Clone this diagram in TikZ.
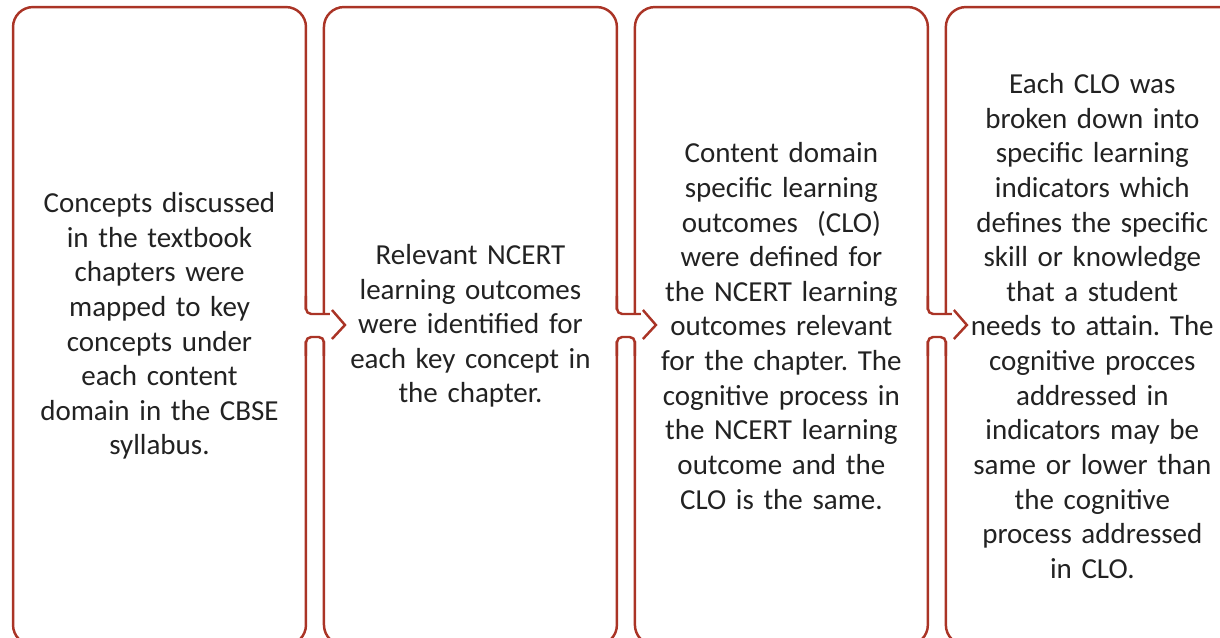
\documentclass[tikz,border=0pt]{standalone}
\usepackage{fontspec}
\setmainfont{Carlito}
\usepackage{xcolor}
\usetikzlibrary{positioning}
\definecolor{boxred}{RGB}{170,52,38}
\definecolor{ink}{RGB}{34,34,34}
\frenchspacing

\begin{document}
\begin{tikzpicture}[
x=0.02cm, y=-0.02cm,
box/.style={rectangle, draw=boxred, line width=1.4pt, rounded corners=0.4cm, outer sep=0pt, inner sep=0.1cm,
  minimum width=5.86cm, minimum height=12.76cm, text width=5.5cm, align=center,
  text=ink, font=\fontsize{16.5}{19.7}\selectfont},
link/.style={draw=boxred, line width=1.4pt}
]
\useasboundingbox (0,0) rectangle (1220,638);

\node[box](concepts) at (159.5,326){Concepts discussed\\in the textbook\\chapters were\\mapped to key\\concepts under\\each content\\domain in the CBSE\\syllabus.};
\node[box](ncert)[right=0.36cm of concepts]{Relevant NCERT\\learning outcomes\\were identified for\\each key concept in\\the chapter.};
\node[box](clo)[right=0.36cm of ncert]{Content domain\\specific learning\\outcomes~~(CLO)\\were defined for\\the NCERT learning\\outcomes relevant\\for the chapter. The\\cognitive process in\\the NCERT learning\\outcome and the\\CLO is the same.};
\node[box](indicators)[right=0.36cm of clo]{Each CLO was\\broken down into\\specific learning\\indicators which\\defines the specific\\skill or knowledge\\that a student\\needs to attain. The\\cognitive procces\\addressed in\\indicators may be\\same or lower than\\the cognitive\\process addressed\\in CLO.};

% bent arrows between the steps
\foreach \a/\b in {concepts/ncert, ncert/clo, clo/indicators}{
  \fill[white] ([shift={(-3,-16)}]\a.east) rectangle ([shift={(3,15)}]\a.east)
               ([shift={(-3,-12)}]\b.west) rectangle ([shift={(3,15)}]\b.west);
  \draw[link, rounded corners=3] ([shift={(0,-30)}]\a.east) |- ([shift={(24,-12)}]\a.east);
  \draw[link] ([shift={(0,-30)}]\b.west) -- ([shift={(0,-12)}]\b.west);
  \draw[link, rounded corners=3] ([shift={(0,30)}]\a.east) |- ([shift={(0,11)}]\b.west) -- ([shift={(0,30)}]\b.west);
  \draw[link, line join=miter] ([shift={(26,-16)}]\a.east) -- ([shift={(39,-1)}]\a.east) -- ([shift={(26,13)}]\a.east);
}

\end{tikzpicture}
\end{document}
